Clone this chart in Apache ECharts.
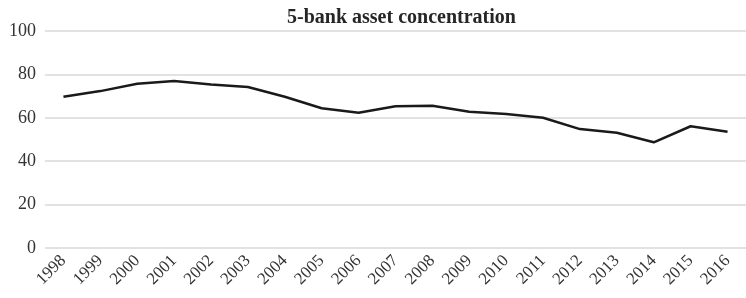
<!DOCTYPE html>
<html>
<head>
<meta charset="utf-8">
<script src="https://cdn.jsdelivr.net/npm/echarts@6/dist/echarts.min.js"></script>
<style>
  html, body { margin: 0; padding: 0; background: #fff; }
  #container { width: 746px; height: 298px; }
</style>
</head>
<body>
<div id="container"></div>
<script>
// 年份与集中度数据
var years = ['1998', '1999', '2000', '2001', '2002', '2003', '2004', '2005', '2006', '2007',
    '2008', '2009', '2010', '2011', '2012', '2013', '2014', '2015', '2016'];
var concentration = [69.7, 72.3, 75.7, 77.0, 75.4, 74.2, 69.7, 64.4, 62.3, 65.3,
    65.6, 62.8, 61.8, 60.0, 54.8, 53.1, 48.7, 56.1, 53.6];

var serif = '"Liberation Serif", "DejaVu Serif", serif';

var option = {
    animation: false,
    title: {
        text: '5-bank asset concentration',
        left: 282,
        top: 3,
        textStyle: {
            fontFamily: serif,
            fontWeight: 'bold',
            fontSize: 20,
            color: '#262626'
        }
    },
    grid: {
        left: 45,
        right: -6,
        top: 31,
        bottom: 50
    },
    xAxis: {
        type: 'category',
        data: years,
        boundaryGap: true,
        axisLine: { show: false },
        axisTick: { show: false },
        axisLabel: {
            rotate: 45,
            interval: 0,
            margin: 10,
            fontFamily: serif,
            fontSize: 17,
            color: '#333'
        }
    },
    yAxis: {
        type: 'value',
        min: 0,
        max: 100,
        interval: 20,
        axisLine: { show: false },
        axisTick: { show: false },
        axisLabel: {
            margin: 9,
            fontFamily: serif,
            fontSize: 18,
            color: '#333'
        },
        splitLine: {
            lineStyle: { color: '#d9d9d9', width: 1.5 }
        }
    },
    series: [{
        name: '5-bank',
        type: 'line',
        data: concentration,
        symbol: 'none',
        lineStyle: { color: '#1a1a1a', width: 2.5 }
    }]
};

var chart = echarts.init(document.getElementById('container'));
chart.setOption(option);
</script>
</body>
</html>
